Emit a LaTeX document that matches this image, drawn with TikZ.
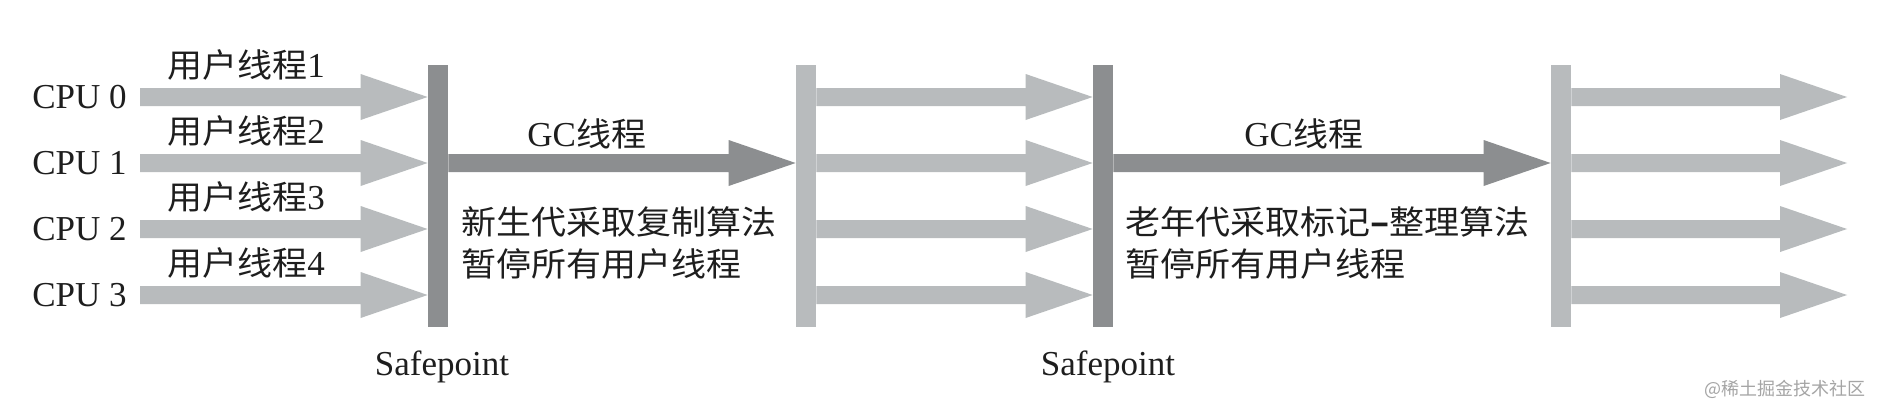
\documentclass[tikz,border=0pt]{standalone}
\usepackage{fontspec}
\setmainfont{Liberation Serif}
\newfontfamily\cjkfont[FakeStretch=1.06]{Noto Sans CJK SC}
\newfontfamily\wmfont{Noto Sans CJK SC}
\usetikzlibrary{calc}
\definecolor{lightc}{RGB}{184,187,189}
\definecolor{darkc}{RGB}{140,142,144}
\definecolor{inkc}{RGB}{30,30,30}
\newcommand\fatarrow[3]{%
  \fill[#1] let \p1=(#2), \p2=(#3) in
    (\x1,\y1+4.5pt) -- (\x2-33.5pt,\y1+4.5pt) -- (\x2-33.5pt,\y1+11.5pt) --
    (\x2,\y1) -- (\x2-33.5pt,\y1-11.5pt) -- (\x2-33.5pt,\y1-4.5pt) --
    (\x1,\y1-4.5pt) -- cycle;}
\tikzset{
  latin/.style={inner sep=0pt, text=inkc, font=\fontsize{17.5pt}{21pt}\selectfont},
  cjklabel/.style={inner sep=0pt, text=inkc, anchor=base west, font=\fontsize{17.5pt}{21pt}\selectfont},
  cjkbody/.style={inner sep=0pt, text=inkc, anchor=west, align=left,
    font=\cjkfont\fontsize{16.5pt}{21pt}\selectfont},
  bardark/.style={fill=darkc, draw=none, inner sep=0pt, minimum width=10pt, minimum height=131pt},
  barlight/.style={fill=lightc, draw=none, inner sep=0pt, minimum width=10pt, minimum height=131pt},
}
\newcommand\cjkL{\cjkfont\fontsize{16.5pt}{21pt}\selectfont}
\begin{document}
\begin{tikzpicture}[x=0.5pt,y=-0.5pt]
\fill[white] (0,0) rectangle (1882,412);
\useasboundingbox (0,0) rectangle (1882,412);
% rows
\coordinate (r0) at (0,97);
\coordinate (r1) at (0,163);
\coordinate (r2) at (0,229);
\coordinate (r3) at (0,295);
\coordinate (e0) at (1847,97);
\coordinate (e1) at (1847,163);
\coordinate (e2) at (1847,229);
\coordinate (e3) at (1847,295);
% bars
\node[bardark]  (b1) at (438,196) {};
\node[barlight] (b2) at (806,196) {};
\node[bardark]  (b3) at (1103,196) {};
\node[barlight] (b4) at (1561,196) {};
% CPU labels
\node[latin, anchor=base west] (cpu0) at (32,108.5) {CPU 0};
\node[latin, anchor=base west] (cpu1) at (32,174.5) {CPU 1};
\node[latin, anchor=base west] (cpu2) at (32,240.5) {CPU 2};
\node[latin, anchor=base west] (cpu3) at (32,306.5) {CPU 3};
% user thread labels
\node[cjklabel] (u1) at (167,77)  {{\cjkL 用户线程}1};
\node[cjklabel] (u2) at (167,143) {{\cjkL 用户线程}2};
\node[cjklabel] (u3) at (167,209) {{\cjkL 用户线程}3};
\node[cjklabel] (u4) at (167,275) {{\cjkL 用户线程}4};
% section 1 arrows
\fatarrow{lightc}{$(cpu0.east |- r0)+(13,0)$}{b1.west |- r0}
\fatarrow{lightc}{$(cpu1.east |- r1)+(13,0)$}{b1.west |- r1}
\fatarrow{lightc}{$(cpu2.east |- r2)+(13,0)$}{b1.west |- r2}
\fatarrow{lightc}{$(cpu3.east |- r3)+(13,0)$}{b1.west |- r3}
% GC 1
\fatarrow{darkc}{b1.east |- r1}{b2.west |- r1}
\node[cjklabel] (gc1) at (527,146) {GC{\cjkL 线程}};
\node[cjkbody] (t1) at (461,243) {新生代采取复制算法\\暂停所有用户线程};
% section 2 arrows
\fatarrow{lightc}{b2.east |- r0}{b3.west |- r0}
\fatarrow{lightc}{b2.east |- r1}{b3.west |- r1}
\fatarrow{lightc}{b2.east |- r2}{b3.west |- r2}
\fatarrow{lightc}{b2.east |- r3}{b3.west |- r3}
% GC 2
\fatarrow{darkc}{b3.east |- r1}{b4.west |- r1}
\node[cjklabel] (gc2) at (1244,146) {GC{\cjkL 线程}};
\node[cjkbody] (t2) at (1125,243) {老年代采取标记{\bfseries –}整理算法\\暂停所有用户线程};
% section 4 arrows
\fatarrow{lightc}{b4.east |- r0}{e0}
\fatarrow{lightc}{b4.east |- r1}{e1}
\fatarrow{lightc}{b4.east |- r2}{e2}
\fatarrow{lightc}{b4.east |- r3}{e3}
% safepoints
\node[latin, anchor=base] (sp1) at (442,375) {Safepoint};
\node[latin, anchor=base] (sp2) at (1108,375) {Safepoint};
% watermark
\node[inner sep=0pt, anchor=base east, text={rgb,255:red,165;green,165;blue,165},
  font=\wmfont\fontsize{9pt}{10pt}\selectfont] (wm) at (1866,395) {@稀土掘金技术社区};
\end{tikzpicture}
\end{document}
